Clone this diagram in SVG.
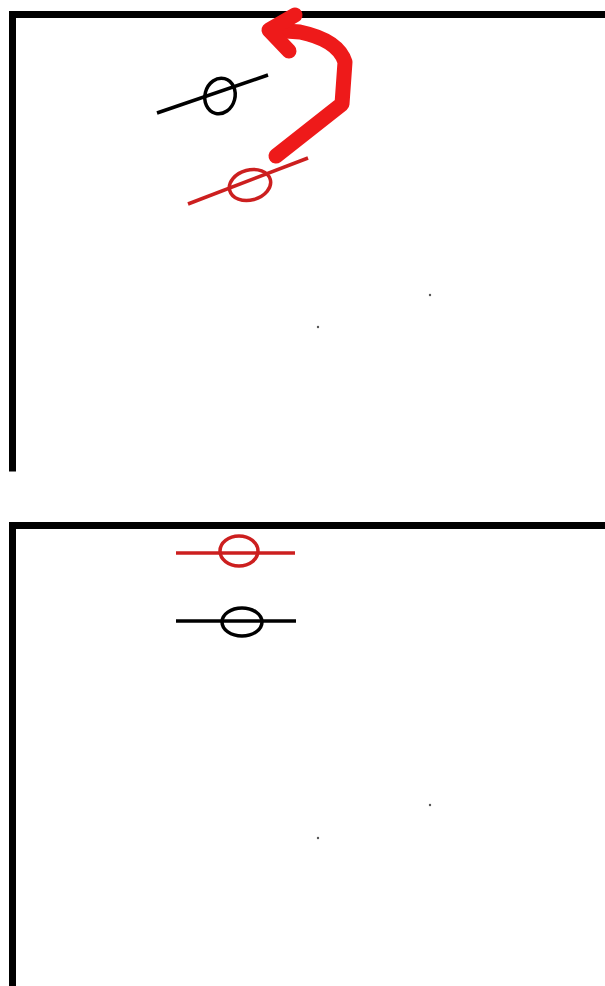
<svg xmlns="http://www.w3.org/2000/svg" width="605" height="986" viewBox="0 0 605 986">
<style>
.frame{stroke:#000;stroke-width:7;fill:none;stroke-linecap:square}
.blk{stroke:#000;stroke-width:3.5;fill:none}
.red{stroke:#cc1f1f;stroke-width:3.5;fill:none}
.arrow{stroke:#ee1a1a;stroke-width:15;fill:none;stroke-linecap:round;stroke-linejoin:round}
.dot{fill:#555}
</style>
<rect width="605" height="986" fill="#fff"/>
<g id="top-panel">
<path class="frame" d="M12.5 468 V14.5 H605"/>
<circle class="dot" cx="318" cy="327" r="1.2"/>
<circle class="dot" cx="430" cy="295" r="1.2"/>
</g>
<g id="top-black-symbol">
<line class="blk" x1="157" y1="113" x2="268" y2="75"/>
<ellipse class="blk" cx="220" cy="96" rx="15" ry="18" transform="rotate(15 220 96)"/>
</g>
<g id="top-red-symbol">
<line class="red" x1="188" y1="204" x2="308" y2="158"/>
<ellipse class="red" cx="250" cy="185" rx="21" ry="15" transform="rotate(-15 250 185)"/>
</g>
<g id="connectors">
<path class="arrow" d="M276 156 L342 104 L345 62 Q338 40 300 32 L272 30"/>
<path class="arrow" d="M295 15 L269 30 L289 51"/>
</g>
<g id="bottom-panel">
<path class="frame" d="M12.5 986 V525.5 H605"/>
<circle class="dot" cx="318" cy="838" r="1.2"/>
<circle class="dot" cx="430" cy="805" r="1.2"/>
</g>
<g id="bottom-red-symbol">
<line class="red" x1="176" y1="553" x2="295" y2="553"/>
<ellipse class="red" cx="239" cy="551" rx="19" ry="15"/>
</g>
<g id="bottom-black-symbol">
<line class="blk" x1="176" y1="621" x2="296" y2="621"/>
<ellipse class="blk" cx="242" cy="622" rx="20" ry="14"/>
</g>
</svg>
